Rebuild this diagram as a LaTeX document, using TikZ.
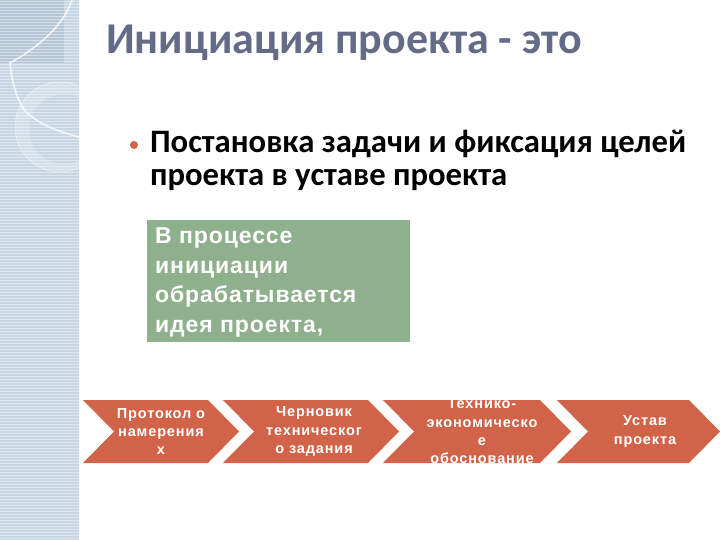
\documentclass[tikz,border=0pt]{standalone}
\usepackage{fontspec}
\setmainfont{Carlito}
\newfontfamily\arialfont[LetterSpace=6]{Liberation Sans}
\newfontfamily\boxfont[LetterSpace=4]{Liberation Sans}

\definecolor{stripeblue}{RGB}{197,214,226}
\definecolor{stripedark}{RGB}{181,199,214}
\definecolor{titleslate}{RGB}{100,107,134}
\definecolor{chevred}{RGB}{209,99,73}
\definecolor{boxgreen}{RGB}{143,176,140}

\tikzset{every picture/.style={line width=0.75pt}}
\tikzset{
  chevron/.style={fill=chevred, draw=none},
  chevtext/.style={anchor=center, inner sep=0.75pt, align=center, text=white,
    font=\arialfont\bfseries\fontsize{14.5}{18.3}\selectfont}
}

\begin{document}
\begin{tikzpicture}[x=1pt,y=1pt,yscale=-1,xscale=1]
\useasboundingbox (0,0) rectangle (720,540);

%Shape: Rectangle [left stripe]
\fill [stripeblue] (0,0) rectangle (79,540);
\fill [stripedark] (0,0) rectangle (64,63);
\foreach \y in {1.5,4.5,...,540} {
  \draw [white, opacity=0.45, line width=0.8] (0,\y) -- (79,\y);
}
\draw [white, line width=1] (79.5,0) -- (79.5,540);
%Shape: Crescent
\begin{scope}
\clip (0,0) rectangle (79,540);
\fill [white, opacity=0.22, even odd rule] (60,127) circle [radius=45] (64,129) circle [radius=35];
\draw [white, opacity=0.6, line width=0.6] (60,127) circle [radius=45];
\draw [white, opacity=0.8, line width=1.6] (72,0) .. controls (62,30) and (30,52) .. (10,63) .. controls (12,85) and (18,102) .. (26,112) .. controls (40,125) and (60,132) .. (79,137);
\end{scope}

% Text Node
\draw (105,43) node (title) [anchor=west][inner sep=0.75pt] [text=titleslate, font=\bfseries\fontsize{44}{48}\selectfont]  {Инициация проекта - это};

%Shape: Circle [bullet]
\fill [chevred] (134,145) circle [radius=4];
% Text Node
\draw (149,129) node (goal) [anchor=north west][inner sep=0.75pt] [align=left, font=\bfseries\fontsize{32.7}{33}\selectfont]  {Постановка задачи и фиксация целей\\проекта в уставе проекта};

%Shape: Rectangle [green box]
\fill [boxgreen] (147,220) rectangle (410,342);
% Text Node
\draw (154,227) node (idea) [anchor=north west][inner sep=0.75pt] [align=left, text=white, font=\boxfont\bfseries\fontsize{23}{29.5}\selectfont]  {В процессе\\инициации\\обрабатывается\\идея проекта,};

%Shape: Chevrons
\fill [chevron] (83,400) -- (208,400) -- (239,431.5) -- (208,463) -- (83,463) -- (114,431.5) -- cycle;
\fill [chevron] (223,400) -- (368,400) -- (399,431.5) -- (368,463) -- (223,463) -- (254,431.5) -- cycle;
\fill [chevron] (383,400) -- (540,400) -- (571,431.5) -- (540,463) -- (383,463) -- (414,431.5) -- cycle;
\fill [chevron] (557,400) -- (689,400) -- (720,431.5) -- (689,463) -- (557,463) -- (588,431.5) -- cycle;

% Text Node
\draw (161,431.5) node (protocol) [chevtext]  {Протокол о\\намерения\\х};
% Text Node
\draw (314,431.5) node (draft) [chevtext]  {Черновик\\техническог\\о задания};
% Text Node
\begin{scope}
\clip (383,400) -- (540,400) -- (571,431.5) -- (540,463) -- (383,463) -- (414,431.5) -- cycle;
\draw (482,431.5) node (feasibility) [chevtext]  {Технико-\\экономическо\\е\\обоснование};
\end{scope}
% Text Node
\draw (645,431.5) node (charter) [chevtext]  {Устав\\проекта};

\end{tikzpicture}
\end{document}
